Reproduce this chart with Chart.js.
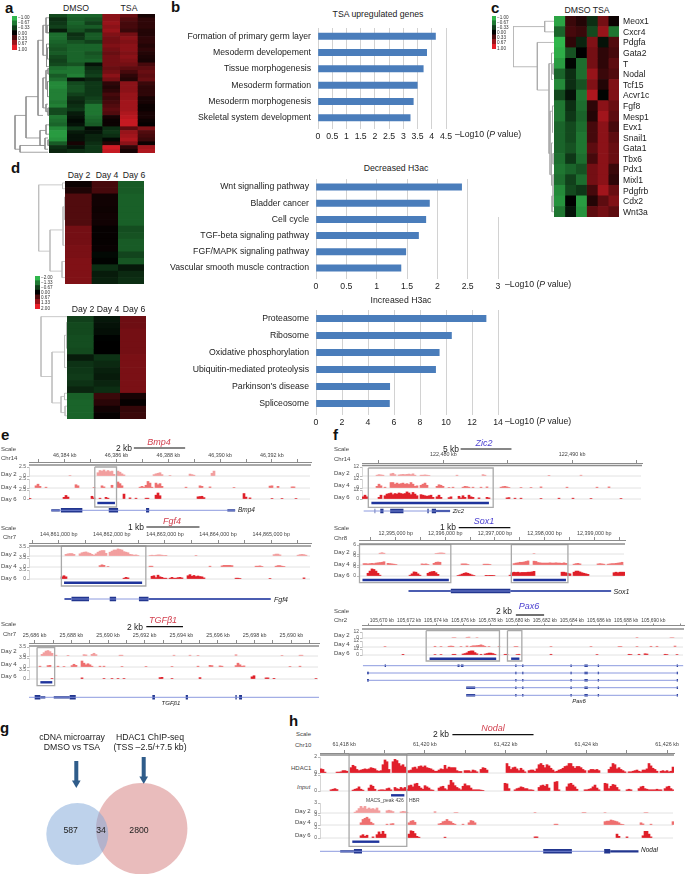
<!DOCTYPE html>
<html><head><meta charset="utf-8">
<style>
html,body{margin:0;padding:0;background:#fff}
#page{position:relative;width:685px;height:874px;overflow:hidden;background:#fff;filter:blur(.4px)}
#page canvas{position:absolute}
#page span{position:absolute;white-space:nowrap;font-family:"Liberation Sans",Arial,sans-serif;line-height:1}
</style>
<script src="https://cdn.jsdelivr.net/npm/chart.js@4"></script>
</head><body><div id="page"></div>
<script>
/* ---------- panel a ---------- */
const heatA=[[-.4,-.55,-.55,.6,.45,.1],[-.25,-.5,-.45,.6,.35,.2],[-.3,-.55,-.35,.65,.3,.2],[-.35,-.5,-.5,.6,.3,.2],[-.15,-.45,-.3,.65,.25,.15],[-.6,-.25,-.5,.55,.5,.15],[-.6,-.3,-.5,.5,.6,.2],[-.55,-.45,-.35,.5,.55,.2],[-.5,-.55,-.55,.55,.6,.15],[-.45,-.55,-.55,.5,.6,.2],[-.5,-.55,-.45,.45,.55,.15],[-.4,-.55,-.5,.5,.6,.12],[-.35,-.55,-.55,.5,.55,.1],[-.4,-.45,-.1,.5,.5,.3],[-.6,-.65,-.25,.45,.4,.4],[-.65,-.65,-.3,.5,.3,.45],[-.5,-.7,-.35,.6,.2,.4],[-.6,-.1,-.2,.5,.15,.45],[-.75,-.4,-.3,.2,.6,.25],[-.75,-.45,-.3,.15,.6,.2],[-.7,-.45,-.3,.2,.6,.2],[-.7,-.35,-.3,.3,.65,.2],[-.7,-.25,-.35,.25,.65,.1],[-.65,-.2,-.4,.3,.7,.1],[-.7,-.25,-.65,.35,.7,.05],[-.4,-.3,-.65,.4,.7,.05],[-.4,-.15,-.65,.35,.75,.1],[-.65,-.1,-.6,.1,.8,.1],[-.6,-.05,-.55,.05,.85,.05],[-.55,-.1,-.5,.05,.85,.02],[-.75,-.3,-.05,-.25,.4,.55],[-.85,-.15,-.1,-.3,.65,.35],[-.85,-.1,-.2,-.25,.7,.3],[-.8,-.1,-.2,-.05,.75,.25],[-.5,.1,-.25,.15,.6,.05],[-.25,-.1,-.3,.9,.2,.7],[-.2,-.25,-.3,.85,.1,.75]];
const dendA=[[34,27,23,36,29],[23,22,11,33,9],[29,35,5,36.8,1],[11,7,6,27,6],[6,3,3,11,2.5],[3,1,0,5,0],[2.5,8,0,14,0],[6,17,3,25,3],[3,15,1,20,1.5],[1,14.5,0,16,0],[1.5,18,0,22,0],[3,24,1,26,1],[9,31,3,35,4],[3,29.5,0,32,0],[4,33,1,36,1],[1,33.5,0,35,0],[1,25,0,27,0],[1.5,9,0,12,0],[2,3,0,5,0]];
const legend1=[-1,-.67,-.33,0,.33,.67,1];
const legendTextA=["−1.00","−0.67","−0.33","0.00","0.33","0.67","1.00"];
/* ---------- panel b ---------- */
const labelsB=["Formation of primary germ layer","Mesoderm developement","Tissue morphogenesis","Mesoderm formation","Mesoderm morphogenesis","Skeletal system development"];
const valuesB=[4.13,3.82,3.70,3.49,3.35,3.24];
/* ---------- panel c ---------- */
const genesC=["Meox1","Cxcr4","Pdgfa","Gata2","T","Nodal","Tcf15","Acvr1c","Fgf8","Mesp1","Evx1","Snail1","Gata1","Tbx6","Pdx1","Mixl1","Pdgfrb","Cdx2","Wnt3a"];
const heatC=[[-.9,.25,.15,-.25,.5,.05],[-.55,.3,.25,-.4,.65,-.65],[-1,.2,-.2,.55,-.1,.35],[-.95,-.45,0,.5,.2,.3],[-.85,-.03,-.6,.5,.2,.4],[-.55,-.25,-.6,.65,.25,.35],[-.75,-.25,-.45,.55,.15,.55],[-.4,-.1,-.65,.75,-.03,.55],[-.65,-.25,-.6,.2,.6,.45],[-.65,-.3,-.55,.15,.7,.4],[-.55,-.4,-.6,.3,.6,.3],[-.55,-.4,-.65,.3,.6,.4],[-.55,-.45,-.65,.4,.6,.45],[-.6,-.3,-.6,.3,.6,.45],[-.65,-.55,-.45,.5,.6,.25],[-.6,-.35,-.6,.5,.6,.2],[-.75,-.4,-.3,.3,.7,.45],[-.8,0,-.85,.15,.4,.55],[-.65,-.1,-.8,.4,.5,.4]];
const dendC=[[41,1,9.3,4.8,16.7],[9.3,.5,0,1.5,0],[16.7,2.5,0,7,5],[5,4.5,2.5,13,4],[2.5,3.5,0,6,1],[1,4.5,0,5.5,0],[4,9,1.5,15,2.5],[1.5,8.5,0,11,1],[2.5,12,1,16,1],[1,13,0,14,0],[1,15,0,18,0],[2,17,0,18.5,0]];
/* ---------- panel d ---------- */
const daysD=["Day 2","Day 4","Day 6"];
const heatD1=[[.1,.6,-1],[.25,.6,-1],[.7,.15,-1.05],[.7,.15,-1.05],[.7,.12,-1.05],[.7,.15,-1.05],[.7,.15,-1.05],[1,.05,-.85],[1,.05,-.9],[1,.05,-1],[1.05,.08,-1],[1.05,-.1,-.75],[1.1,-.03,-.95],[1.1,-.5,-.25],[1.1,-.3,-.45],[1.1,-.35,-.5]];
const heatD2=[[-.7,-.25,.95],[-.8,-.2,.95],[-.8,-.15,1],[-.85,-.02,1],[-.85,0,1],[-.8,0,1],[-.3,-.55,1.05],[-.55,-.45,1.05],[-.6,-.35,1.05],[-.65,-.3,1.05],[-.55,-.4,1.05],[-.4,-.5,1.05],[-1.05,.5,.2],[-1.1,.35,.05],[-1.1,.15,.45],[-1.1,.05,.5]];
const dendD1=[[26.3,.6,2.5,10.9,15],[2.5,.3,0,1.2,0],[15,7.6,2,14,3],[2,4,0,10,.5],[.5,2.5,0,6,0],[3,12.5,0,15,0]];
const dendD2=[[26,.1,0,9.4,15],[15,5.6,2.5,13.5,6],[2.5,3,.5,8,.5],[.5,1,0,5,0],[6,12.5,2.5,15,2],[2.5,12,0,13,0],[2,14,0,15.5,0]];
const legend2=[-2,-1.33,-.67,0,.67,1.33,2];
const legendTextD=["−2.00","−1.33","−0.67","0.00","0.67","1.33","2.00"];
const labelsD1=["Wnt signalling pathway","Bladder cancer","Cell cycle","TGF-beta signaling pathway","FGF/MAPK signaling pathway","Vascular smooth muscle contraction"];
const valuesD1=[2.40,1.87,1.81,1.69,1.48,1.40];
const labelsD2=["Proteasome","Ribosome","Oxidative phosphorylation","Ubiquitin-mediated proteolysis","Parkinson's disease","Spliceosome"];
const valuesD2=[13.08,10.42,9.48,9.2,5.67,5.65];
/* ---------- tracks: [first bin, signal, signal, ...] ---------- */
const bmp4D2=[[20,2],[34,12,20,18,22,16,20,16,18,6],[44,18,14,8,4],[62,5,8,10,12,5],[70,2],[80,7,5,3],[91,10,18]];
const bmp4D4=[[3,8,14,6],[8,3],[23,12,8],[32,2],[36,8,4],[41,10],[44,22,16,8],[55,3,6,3,10,24,18,3],[63,18,12,16,6],[78,3],[85,8,6],[90,4],[102,2],[120,7,8],[124,6],[131,4,4]];
const bmp4D6=[[0,1],[17,6,13,7],[31,10,4],[35,3],[38,6,3],[47,18],[50,4],[53,3],[58,3,3],[63,14,22,12],[84,8,9,10,5],[107,20,7],[110,4],[121,2],[126,2],[133,2]];
const fgf4D2=[[18,6,8,9,9,6],[25,8,12,14,15,12,10,6,3],[33,8,14,18,20,20,10],[40,14,18,22,22,26,24,22,16,14,12,6],[51,5,3,4,2],[60,2,3,2,3,4,4,3,2,1],[83,1],[122,5,7,7,4],[134,3,5,6,5,3]];
const fgf4D4=[[35,5,8,6],[39,2],[60,3,3],[90,3],[96,4,6,6,6,6,5],[113,3,3,4,2],[123,3,5,5,3,2]];
const fgf4D6=[[16,8,12,8],[47,3,6,4],[61,10,12,5,14,8,6,3,3],[70,3,6,3],[73,3,5,6,4],[79,12,16,10,13,9,11,9,8,4],[103,3,3,2],[120,2],[137,4]];
const tgfD2=[[6,6,12,18,20,16,10],[13,3],[19,1],[27,5,4],[31,6,10,5],[45,3,3],[72,3],[80,3],[84,1],[103,5],[126,1],[135,3,3]];
const tgfD4=[[5,3],[9,5,6],[14,3],[17,2],[21,5,10,6],[26,22,14,8,12,8,3],[35,3],[37,3],[46,2],[58,2],[71,2],[84,3],[90,6,5],[95,4,3],[103,5,14,8,3,4],[130,2],[135,3]];
const tgfD6=[[11,2],[26,4],[37,2],[41,2],[44,2],[47,2],[65,5,6],[71,2],[85,5],[111,8,12],[118,4,4],[122,1],[143,2]];
const zic2D2=[[7,3,5,4,3],[14,8,10,5],[18,4,5,6,5,6,7,5,8,3],[29,3,3,4,3,2],[47,3],[60,5,3],[93,1],[109,3]];
const zic2D4=[[7,6,14,8],[11,3],[14,20,20,14,18,14,16,18,14,16,13,20,14,6,8],[29,10,14,18,10],[37,6,12,10,6],[43,2],[45,3],[50,3,6,5,3],[55,3],[59,3],[62,4],[69,3,5,6,4,2],[79,2],[84,2],[89,4],[102,3],[117,3],[123,4]];
const zic2D6=[[0,8,14,8],[8,6,14],[11,12,18,20,22,16,20,18,22,20,18,20,26,22,16,24,18,12],[29,16,14,12,10,12,14,6],[37,8,14,6],[43,5,8],[48,10,4,12,6],[53,14,8,6],[58,4],[62,6,4],[72,4,5],[76,3],[79,3],[89,2],[98,3],[105,3],[114,2],[129,2]];
const sox1D2=[[10,3,5,3],[38,2,3,4,4,3],[87,2]];
const sox1D4=[[2,5,5,4,5,6,5,7,8,9,10,12],[14,6,5,4,3,2],[31,4,3,4,2],[37,6,10,11,10],[51,4,4,4,2],[62,3,3,3,2],[77,5,7,8,10,10,11,13,15],[87,14,13,9,8,7,7,7,7,8,7,7,8,7,7,6,8,6],[107,3,5,6,4],[119,4,5,4,3],[124,3,4,5,5,6,7,8,10]];
const sox1D6=[[4,10,18,26,24,18,10,3],[25,3,8,15,14,8,3],[34,10,14,16,17,12,6],[49,2,4,7,10,12,10,7,4,2],[63,1,2,1,1,2],[75,3,12,14,13,14,12,13,13,13,14,14,15,17],[101,14,14,12,10,8],[107,14,18,18,15,12,10,8,6],[127,12,14,12,14,14,14]];
const pax6D2=[[45,2,2],[52,3,4],[57,2],[137,1],[154,2,2]];
const pax6D4=[[11,2],[36,3],[39,2],[43,3,4,3],[49,2],[52,4],[54,3,5,5,6,7,9,6,3],[63,2],[68,2],[76,2,2],[94,2],[114,2],[128,2,2],[137,2],[144,3],[147,3],[156,4]];
const pax6D6=[[20,1],[36,2],[39,2],[45,3,3],[50,4,6,9,15,17,17,10,5],[59,3],[61,4,6,8,8,6,3],[71,3,3],[77,2,3],[94,3],[117,2],[133,3,2],[138,3],[141,5,4],[151,3,2],[157,2]];
const nodalHdac=[[0,14,12,3],[8,3,3],[10,4,8,8,6],[15,18,26,22,12,8,10,12,14,12,14,18,16,14,8,6,8,28,44,38,12],[36,38,46,42,32,24,28,20],[44,8,10,18,20,14,22,24,20,24,18,16,14,10,6],[58,6,10,14,12,26,14,20,18,18,18,8,5,5],[72,8,8,8,4,10,8,4],[80,12,18,16,10],[93,32,22,12,18,20,14,8,16,10,4],[104,8,10,10,6],[108,14,28,32,26,18,28,24,16,10,4],[118,6,10,12,16,22,24,32,32,22,16,22,22,18,12,8],[134,8,12,12,10,12,8],[144,12,20,32,28,14,18,12,8,4],[154,4,4,6,8,10,6,4],[161,10,10,14,32,24,16,12,6],[170,6,8,5,8,4,6,20]];
const nodalInput=[[5,4,6,8,5],[16,3,6,8,14,6,3],[24,10,20,16,6],[29,3,4,4,3,8,10,4],[37,12,8,6,12,8,12,6],[44,18,20,14,24,26,16,10,6,18,14,10,4,3],[59,10,14,16,8,4,20,36,28,18,12,8,4,16,24,18],[74,18,10,4,4,4,4,3,2],[92,26,24,8],[97,4,8,10,14,12,8,8,4,4,3],[109,12,18,20,16,22,10],[117,30,32,4],[123,14,24,26,20,14,6],[132,4,4,6,8,14,20,10,4],[142,26,24,8,16,22,20,12,4],[153,4,6,4],[159,8,14,16,8,6,4],[165,4,4,4,6,4,4],[172,8,14,16,8,4]];
const nodalD2=[[17,3,8,16,24,18,24,14,18,14,16,12,18,8],[33,8,10,8,5],[40,4,6,5,2],[57,5],[67,2,2],[107,1],[131,1,1],[142,2],[162,2,2]];
const nodalD4=[[20,8,20,24,28,22,10,5],[33,3,0,4,5],[44,8,14,16,10],[59,4,6,12,14,20,14,12,6,3],[71,3],[74,8,16,14,8],[117,3,3],[142,12,14,14,18,16,14,12,8,3,2],[160,8,4],[165,3],[176,12]];
const nodalD6=[[20,8,12,6,10],[26,4],[28,12,22,14,24,14],[44,14,26,24,16,6,3],[62,3],[107,4,4],[148,14,6],[153,4],[161,8,24,24,14,4]];
/* ---------- genome models, in kb ---------- */
const bmp4Introns=[[46383.48,46390.58]],bmp4Utrs=[[46383.48,46383.81],[46390.28,46390.58]],bmp4Exons=[[46383.85,46384.68],[46385.70,46386.06],[46387.14,46387.26]],bmp4Boxes=[[46385.16,46386.0]],bmp4Macs=[[46385.26,46385.94]];
const bmp4Ticks=[46383,46384,46385,46386,46387,46388,46389,46390,46391,46392,46393];
const fgf4Introns=[[144861.11,144864.99]],fgf4Utrs=[[144861.11,144861.24],[144862.69,144864.99]],fgf4Exons=[[144861.24,144861.57],[144861.96,144862.08],[144862.51,144862.69]],fgf4Boxes=[[144861.05,144862.64]],fgf4Macs=[[144861.10,144862.57]];
const fgf4Ticks=[144860.5,144861,144861.5,144862,144862.5,144863,144863.5,144864,144864.5,144865,144865.5];
const tgfIntrons=[[25685.69,25701.51]],tgfUtrs=[[25686.31,25686.58],[25687.04,25687.91]],tgfExons=[[25686,25686.31],[25687.91,25688.24],[25692.42,25692.56],[25694.24,25694.36],[25696.95,25697.02],[25697.15,25697.31]],tgfBoxes=[[25686.13,25687.09]],tgfMacs=[[25686.31,25686.96]];
const tgfTicks=[25686,25687,25688,25689,25690,25691,25692,25693,25694,25695,25696,25697,25698,25699,25700,25701];
const zic2Introns=[[122473.81,122480.52]],zic2Utrs=[[122479.43,122480.52]],zic2Exons=[[122474.66,122474.71],[122475.10,122475.35],[122475.87,122476.90],[122478.76,122478.86],[122479.10,122479.43]],zic2Boxes=[[122474.17,122483.87]],zic2Macs=[[122474.41,122483.54]];
const zic2Ticks=[122475,122480,122485,122490,122495];
const sox1Introns=[[12395.26,12399.34]],sox1Utrs=[[12395.26,12396.11],[12397.31,12399.34]],sox1Exons=[[12396.11,12397.31]],sox1Boxes=[[12394.27,12396.11],[12397.33,12398.47]],sox1Macs=[[12394.33,12396.07],[12397.37,12398.43]];
const sox1Ticks=[12394.5,12395,12395.5,12396,12396.5,12397,12397.5,12398,12398.5,12399,12399.5];
const pax6Boxes=[[105673.26,105678.66],[105679.25,105680.31]],pax6Macs=[[105673.51,105678.42],[105679.52,105680.13]];
const pax6Common=[[105679.82,105679.92],[105680.33,105680.43],[105683.89,105683.99],[105684.92,105685.17],[105685.9,105686.0],[105691.72,105691.82]];
const pax6Ticks=[105669,105670,105672,105674,105676,105678,105680,105682,105684,105686,105688,105690,105692];
const nodalIntrons=[[61417.40,61424.44]],nodalUtrs=[[61417.90,61418.24],[61424.59,61425.29]],nodalExons=[[61418.24,61418.44],[61422.93,61423.64],[61424.44,61424.59]],nodalBoxes=[[61418.12,61419.55]],nodalMacs=[[61419.16,61419.49],[61418.20,61418.87]];
const nodalTicks=[61418,61419,61420,61421,61422,61423,61424,61425,61426];
/* ---------- panel g ---------- */
const vennCounts=[587,34,2800];
const vennSets=[{x:77.3,y:834,r:31},{x:141.7,y:828.7,r:45.7}];

/* ---------- helpers ---------- */
const page=document.getElementById('page');
const FONT='"Liberation Sans",Arial,sans-serif';
Chart.defaults.font.family=FONT;
Chart.defaults.animation=false;
Chart.defaults.plugins.legend.display=false;
Chart.defaults.plugins.tooltip.enabled=false;
Chart.defaults.responsive=false;
Chart.defaults.devicePixelRatio=1;
Chart.defaults.layout.autoPadding=false;
function cv(x,y,w,h){const c=document.createElement('canvas');c.width=w;c.height=h;c.style.left=x+'px';c.style.top=y+'px';c.style.width=w+'px';c.style.height=h+'px';page.appendChild(c);return c;}
function t(x,y,s,o={}){const e=document.createElement('span');e.innerHTML=s;const a=o.align||'left';
 e.style.left=x+'px';e.style.top=y+'px';e.style.fontSize=(o.size||8.7)+'px';e.style.color=o.color||'#222';
 if(o.bold)e.style.fontWeight='bold';if(o.italic)e.style.fontStyle='italic';
 e.style.transform='translate('+(a=='left'?'0':a=='right'?'-100%':'-50%')+',-50%)';page.appendChild(e);}
function col(f){f=Math.max(-1,Math.min(1,f));return f<0?`rgb(${Math.round(-f*48)},${Math.round(-f*182)},${Math.round(-f*76)})`:`rgb(${Math.round(f*232)},${Math.round(f*30)},${Math.round(f*40)})`;}
function heat(x,y,w,h,m,max){const c=cv(x,y,w,h);const n=m[0].length;
 new Chart(c,{type:'bar',data:{labels:m.map((_,i)=>i),datasets:Array.from({length:n},(_,j)=>({data:m.map(()=>1),backgroundColor:m.map(r=>col(r[j]/max)),barPercentage:1,categoryPercentage:1,borderWidth:0}))},
 options:{indexAxis:'y',layout:{padding:0},scales:{x:{stacked:true,display:false,min:0,max:n},y:{stacked:true,display:false}}}});}
function gapped(list){const p=[];list.forEach(s=>{p.push(...s);p.push({x:NaN,y:NaN});});return p;}
function dend(x,y,w,h,nodes,rows,color){const c=cv(x,y,w,h);
 const data=gapped(nodes.map(([p,a,ca,b,cb])=>[{x:ca,y:a},{x:p,y:a},{x:p,y:b},{x:cb,y:b}]));
 new Chart(c,{type:'scatter',data:{datasets:[{data,showLine:true,spanGaps:false,pointRadius:0,borderColor:color,borderWidth:.8}]},
 options:{layout:{padding:0},scales:{x:{display:false,reverse:true,min:0,max:w},y:{display:false,reverse:true,min:0,max:rows}}}});}
function legendBar(x,y,w,h,vals,max,texts,tx,ys){heat(x,y,w,h,vals.map(v=>[v]),max);texts.forEach((s,i)=>t(tx,ys+i*(h-2)/6,s,{size:4.6,color:'#333'}));}
function hbars(o){const L=160,top=o.y0-2,ax=16,pr=16;
 const c=cv(L,top,o.x1+pr-L,o.y1-o.y0+2+ax);
 new Chart(c,{type:'bar',data:{labels:o.labels,datasets:[{data:o.values,backgroundColor:'#4a7dbb',barThickness:6.3,borderWidth:0}]},
 options:{indexAxis:'y',layout:{padding:{top:2,right:pr,left:0,bottom:0}},scales:{
  x:{min:0,max:o.max,afterBuildTicks:s=>{s.ticks=o.ticks.map(v=>({value:v}));},afterFit:s=>{s.height=ax;s.paddingLeft=0;s.paddingRight=0;},
     ticks:{color:'#222',font:{size:8.7},padding:2,maxRotation:0,autoSkip:false,callback:v=>String(v)},
     border:{display:false},grid:{color:ctx=>(o.hideAt!==undefined&&ctx.tick&&ctx.tick.value===o.hideAt)?'rgba(0,0,0,0)':'#d2d2d2',lineWidth:1,tickLength:3}},
  y:{afterFit:s=>{s.width=o.x0-L;s.paddingTop=0;s.paddingBottom=0;},ticks:{color:'#222',font:{size:8.7},padding:7,autoSkip:false},border:{display:false},grid:{display:false,drawTicks:false}}}}});}
function expand(peaks,n){const a=new Array(n).fill(0);peaks.forEach(([s,...v])=>v.forEach((h,i)=>{if(s+i<n)a[s+i]=h;}));return a;}
function track(left,right,base,full,max,peaks,color){const w=right-left,n=Math.round(w/2),H=Math.round(full/3),pad=3,ax=12;
 const c=cv(left-ax,base-H-pad,w+ax,H+2*pad);const vals=expand(peaks,n).map(z=>z?z/full*max:null);
 new Chart(c,{data:{labels:vals.map((_,i)=>i),datasets:[
  {type:'line',data:vals.map(()=>0),borderColor:'#e2e2e2',borderWidth:1,pointRadius:0,clip:false,order:2},
  {type:'bar',data:vals,backgroundColor:color,barPercentage:1,categoryPercentage:1,borderWidth:0,order:1}]},
 options:{layout:{padding:{top:pad,bottom:pad,left:0,right:0}},scales:{x:{display:false},
  y:{min:0,max,afterBuildTicks:s=>{s.ticks=[{value:0},{value:max}];},afterFit:s=>{s.width=ax;},
     ticks:{font:{size:5},color:'#555',padding:1,autoSkip:false,callback:v=>String(v)},border:{color:'#bbb',width:.6},grid:{drawOnChartArea:false,tickLength:2,color:'#bbb'}}}}});}
function browser(o){const m=30,top=o.top,ax=o.rulerY-top,w=o.right-o.left,h=o.bottom-o.rulerY;
 const c=cv(o.left-m,top,w+2*m,ax+h);const R=y=>y-o.rulerY;
 const seg=(list,y,width,color,extra={})=>({data:gapped(list.map(([a,b])=>[{x:a,y:R(y)},{x:b,y:R(y)}])),showLine:true,spanGaps:false,pointRadius:0,borderColor:color,borderWidth:width,clip:false,borderCapStyle:'butt',...extra});
 const ds=[seg([[o.xmin,o.xmax]],o.thickY,1.6,'#8c8c8c')];
 (o.genes||[]).forEach(g=>{ds.push(seg(g.introns,g.y,.9,'#7f8edb'));if(g.utrs)ds.push(seg(g.utrs,g.y,2.2,'#22368f'));ds.push(seg(g.exons,g.y,g.ex||4.5,'#22368f'));});
 o.macs.forEach(b=>ds.push(seg([b.r],b.y,2.4,'#1f349c')));
 o.boxes.forEach(b=>ds.push({data:[{x:b.r[0],y:R(b.y0)},{x:b.r[1],y:R(b.y0)},{x:b.r[1],y:R(b.y1)},{x:b.r[0],y:R(b.y1)},{x:b.r[0],y:R(b.y0)}],showLine:true,pointRadius:0,borderColor:'#a9a9a9',borderWidth:1.3,clip:false}));
 ds.push(seg([o.bar],o.barY,1.2,'#111',{pointRadius:ctx=>(ctx.raw&&Number.isNaN(ctx.raw.x))?0:1.2,pointBackgroundColor:'#111',pointBorderWidth:0}));
 new Chart(c,{type:'scatter',data:{datasets:ds},options:{layout:{padding:{left:m,right:m,top:0,bottom:0}},scales:{
  x:{position:'top',min:o.xmin,max:o.xmax,afterBuildTicks:s=>{s.ticks=o.ticks.map(v=>({value:v}));},afterFit:s=>{s.height=ax;s.paddingLeft=0;s.paddingRight=0;},
     ticks:{font:{size:o.fs||5.4},color:'#444',padding:o.lp,maxRotation:0,autoSkip:false,callback:v=>o.labels[v]||''},border:{color:'#8c8c8c',width:1},grid:{drawOnChartArea:false,tickLength:o.tl||3,color:'#8c8c8c'}},
  y:{display:false,reverse:true,min:0,max:h}}}});}
const SM={size:6,color:'#444'};
const D2='#f29f9f',D4='#ee7070',D6='#df2029',RD='#e1202c',TITLE='#d2404f',BLUE='#4a3fd0';

/* panel letters */
[["a",5,7],["b",171,6],["c",491,7],["d",11,167],["e",1,434],["f",333,434],["g",0,727],["h",289,720]].forEach(([s,x,y])=>t(x,y,s,{size:15,bold:true,color:'#111'}));

/* a */
t(76,8,"DMSO",{align:'center'});t(129,8,"TSA",{align:'center'});
dend(14,14,35,139,dendA,37,'#8a8a8a');
heat(49,14,106,139,heatA,1);
legendBar(12,16,5,34,legend1,1,legendTextA,18,17.5);

/* b */
t(378,14,"TSA upregulated genes",{align:'center'});
hbars({x0:318,x1:446,y0:28,y1:126,labels:labelsB,values:valuesB,max:4.5,ticks:[0,.5,1,1.5,2,2.5,3,3.5,4,4.5]});
t(455,133.5,"–Log10 (<i>P</i> value)");

/* c */
t(587,10,"DMSO TSA",{align:'center'});
legendBar(492,16,4,33,legend1,1,legendTextA,497,17.5);
dend(513,16,41,201,dendC,19,'#a8a8a8');
heat(554,16,65,201,heatC,1);
genesC.forEach((g,i)=>t(623,16+(i+.5)*10.58,g,{size:8.6}));

/* d */
daysD.forEach((d,i)=>t([79,107,134][i],175,d,{align:'center'}));
dend(38,181,27,103,dendD1,16,'#bdbdbd');
heat(65,181,79,103,heatD1,2);
legendBar(35,276,4.5,33,legend2,2,legendTextD,41,277.5);
daysD.forEach((d,i)=>t([83,108,134][i],309,d,{align:'center'}));
dend(40,316,27,103,dendD2,16,'#bdbdbd');
heat(67,316,79,103,heatD2,2);
t(396,168,"Decreased H3ac",{align:'center'});
hbars({x0:316,x1:498,y0:179,y1:276,labels:labelsD1,values:valuesD1,max:3,ticks:[0,.5,1,1.5,2,2.5,3],hideAt:3});
t(505,284,"–Log10 (<i>P</i> value)");
t(401,300,"Increased H3ac",{align:'center'});
hbars({x0:316,x1:498,y0:310,y1:412,labels:labelsD2,values:valuesD2,max:14,ticks:[0,2,4,6,8,10,12,14]});
t(505,421,"–Log10 (<i>P</i> value)");

/* stub of the last gridline in the upper panel d chart */
(function(){const s=document.createElement('div');s.style.cssText='position:absolute;left:498px;top:217px;width:1px;height:62px;background:#d2d2d2';page.appendChild(s);})();

/* e: Bmp4 */
t(1,449,"Scale",SM);t(1,458,"Chr14",SM);[["Day 2",474],["Day 4",487],["Day 6",499]].forEach(([d,y])=>t(1,y,d,SM));
t(159,442,"Bmp4",{italic:true,size:9,color:TITLE,align:'center'});t(132,448,"2 kb",{size:8.5,align:'right'});
track(29,311,477,33,2.5,bmp4D2,D2);track(29,311,489,33,2.5,bmp4D4,D4);track(29,311,500,33,2.5,bmp4D6,D6);
browser({left:29,right:311,top:444,rulerY:462,thickY:465,bottom:515,lp:0,xmin:46382.62,xmax:46393.51,ticks:bmp4Ticks,labels:{46384:"46,384 kb",46386:"46,386 kb",46388:"46,388 kb",46390:"46,390 kb",46392:"46,392 kb"},
 genes:[{y:510.3,introns:bmp4Introns,utrs:bmp4Utrs,exons:bmp4Exons}],macs:[{r:bmp4Macs[0],y:503}],boxes:[{r:bmp4Boxes[0],y0:467,y1:507}],bar:[46386.67,46388.65],barY:448});
t(238,510,"Bmp4",{italic:true,size:6.5});

/* e: Fgf4 */
t(1,528,"Scale",SM);t(3,537,"Chr7",SM);[["Day 2",554],["Day 4",566],["Day 6",578]].forEach(([d,y])=>t(1,y,d,SM));
t(172,521,"Fgf4",{italic:true,size:9,color:TITLE,align:'center'});t(144,527,"1 kb",{size:8.5,align:'right'});
track(29,311,557,33,3.5,fgf4D2,D2);track(29,311,568,33,3.5,fgf4D4,D4);track(29,311,580,33,3.5,fgf4D6,D6);
browser({left:29,right:311,top:523,rulerY:543,thickY:546,bottom:604,lp:2.6,xmin:144860.44,xmax:144865.75,ticks:fgf4Ticks,labels:{144861:"144,861,000 bp",144862:"144,862,000 bp",144863:"144,863,000 bp",144864:"144,864,000 bp",144865:"144,865,000 bp"},
 genes:[{y:599,introns:fgf4Introns,utrs:fgf4Utrs,exons:fgf4Exons}],macs:[{r:fgf4Macs[0],y:582.7}],boxes:[{r:fgf4Boxes[0],y0:546,y1:586}],bar:[144862.65,144863.65],barY:527});
t(274,598.5,"Fgf4",{italic:true,size:7});

/* e: TGFb1 */
t(1,624,"Scale",SM);t(3,634,"Chr7",SM);[["Day 2",651],["Day 4",664],["Day 6",676]].forEach(([d,y])=>t(1,y,d,SM));
t(163,620,"TGFβ1",{italic:true,size:9,color:TITLE,align:'center'});t(143,627,"2 kb",{size:8.5,align:'right'});
track(29,319,657,33,3.5,tgfD2,D2);track(29,319,668,33,3.5,tgfD4,D4);track(29,319,680,33,3.5,tgfD6,D6);
browser({left:29,right:319,top:622,rulerY:643,thickY:646,bottom:702,lp:1.3,xmin:25685.69,xmax:25701.51,ticks:tgfTicks,labels:{25686:"25,686 kb",25688:"25,688 kb",25690:"25,690 kb",25692:"25,692 kb",25694:"25,694 kb",25696:"25,696 kb",25698:"25,698 kb",25700:"25,690 kb"},
 genes:[{y:697.3,introns:tgfIntrons,utrs:tgfUtrs,exons:tgfExons}],macs:[{r:tgfMacs[0],y:682.3}],boxes:[{r:tgfBoxes[0],y0:647.5,y1:685.7}],bar:[25692.09,25694.09],barY:626.7});
t(171,702.7,"TGFβ1",{italic:true,size:6,align:'center'});

/* f: Zic2 */
t(334,449,"Scale",SM);t(334,459,"Chr14",SM);[["Day 2",473],["Day 4",485],["Day 6",497]].forEach(([d,y])=>t(334,y,d,SM));
t(484,443,"Zic2",{italic:true,size:9,color:BLUE,align:'center'});t(459,449,"5 kb",{size:8.5,align:'right'});
track(362,642,477,33,12,zic2D2,D2);track(362,642,489,33,12,zic2D4,D4);track(362,642,500,33,12,zic2D6,D6);
browser({left:362,right:642,top:445,rulerY:463,thickY:465.5,bottom:515,lp:2,xmin:122473.68,xmax:122495.43,ticks:zic2Ticks,labels:{122480:"122,480 kb",122490:"122,490 kb"},
 genes:[{y:511,introns:zic2Introns,utrs:zic2Utrs,exons:zic2Exons}],macs:[{r:zic2Macs[0],y:503}],boxes:[{r:zic2Boxes[0],y0:468,y1:507.3}],bar:[122481.34,122485.29],barY:449});
t(452.7,510.5,"Zic2",{italic:true,size:6});

/* f: Sox1 */
t(334,528,"Scale",SM);t(334,538,"Chr8",SM);[["Day 2",552],["Day 4",564],["Day 6",575]].forEach(([d,y])=>t(334,y,d,SM));
t(484,521,"Sox1",{italic:true,size:9,color:BLUE,align:'center'});t(456,527,"1 kb",{size:8.5,align:'right'});
track(359,625,555,33,6,sox1D2,D2);track(359,625,566,33,6,sox1D4,D4);track(359,625,577,33,6,sox1D6,D6);
browser({left:359,right:625,top:522,rulerY:540,thickY:544,bottom:596,lp:.3,xmin:12394.26,xmax:12399.62,ticks:sox1Ticks,labels:{12395:"12,395,000 bp",12396:"12,396,000 bp",12397:"12,397,000 bp",12398:"12,398,000 bp",12399:"12,399,000 bp"},
 genes:[{y:591,introns:sox1Introns,utrs:sox1Utrs,exons:sox1Exons}],macs:[{r:sox1Macs[0],y:580},{r:sox1Macs[1],y:580}],boxes:[{r:sox1Boxes[0],y0:544.7,y1:582.7},{r:sox1Boxes[1],y0:544.7,y1:582.7}],bar:[12396.27,12397.31],barY:527.7});
t(613.5,591,"Sox1",{italic:true,size:7});

/* f: Pax6 */
t(334,611,"Scale",SM);t(334,620,"Chr2",SM);[["Day 2",635],["Day 4",644],["Day 6",653]].forEach(([d,y])=>t(334,y,d,SM));
t(529,606,"Pax6",{italic:true,size:9,color:BLUE,align:'center'});t(512,611,"2 kb",{size:8.5,align:'right'});
track(362,684,639,25,12,pax6D2,D2);track(362,684,648,25,12,pax6D4,D4);track(362,684,656,25,12,pax6D6,D6);
browser({left:362,right:684,top:610,rulerY:625,thickY:629,bottom:702,lp:0,tl:1.5,fs:4.9,xmin:105668.53,xmax:105692.26,ticks:pax6Ticks,labels:{105670:"105,670 kb",105672:"105,672 kb",105674:"105,674 kb",105676:"105,676 kb",105678:"105,678 kb",105680:"105,680 kb",105682:"105,682 kb",105684:"105,684 kb",105686:"105,686 kb",105688:"105,688 kb",105690:"105,690 kb"},
 genes:[
  {y:665.7,ex:2.6,introns:[[105668.6,105692.2]],exons:[[105670.2,105670.3],[105675.57,105675.72],[105675.82,105676.01],...pax6Common]},
  {y:673,ex:2.6,introns:[[105668.9,105691.8]],exons:[[105668.9,105669.04],...pax6Common]},
  {y:680.3,ex:2.6,introns:[[105668.9,105691.8]],exons:[[105668.9,105669.04],...pax6Common]},
  {y:687.7,ex:2.6,introns:[[105676.21,105691.8]],exons:[[105676.21,105676.87],...pax6Common]},
  {y:695.3,ex:2.6,introns:[[105676.21,105691.8]],exons:[[105676.21,105676.87],...pax6Common]}],
 macs:[{r:pax6Macs[0],y:658.7},{r:pax6Macs[1],y:658.7}],boxes:[{r:pax6Boxes[0],y0:630.7,y1:661},{r:pax6Boxes[1],y0:630.7,y1:661}],bar:[105679.87,105681.95],barY:615});
t(579,700.7,"Pax6",{italic:true,size:6,align:'center'});

/* g */
t(72,737,"cDNA microarray",{align:'center',size:8.7});t(72,747,"DMSO vs TSA",{align:'center',size:8.7});
t(150,737,"HDAC1 ChIP-seq",{align:'center',size:8.7});t(150,747,"(TSS –2.5/+7.5 kb)",{align:'center',size:8.7});
(function(){const c=cv(0,750,200,124);
 new Chart(c,{type:'bubble',data:{datasets:[
  {data:[vennSets[0]],backgroundColor:'rgba(130,168,216,.52)',borderWidth:0,clip:false},
  {data:[vennSets[1]],backgroundColor:'rgba(212,122,122,.5)',borderWidth:0,clip:false},
  {type:'line',data:[{x:76.3,y:761},{x:76.3,y:783}],borderColor:'#2f5c8a',borderWidth:4,pointRadius:[0,5],pointStyle:'triangle',pointRotation:180,pointBackgroundColor:'#2f5c8a',pointBorderWidth:0,borderCapStyle:'butt'},
  {type:'line',data:[{x:143.7,y:757},{x:143.7,y:779}],borderColor:'#2f5c8a',borderWidth:4,pointRadius:[0,5],pointStyle:'triangle',pointRotation:180,pointBackgroundColor:'#2f5c8a',pointBorderWidth:0,borderCapStyle:'butt'}]},
 options:{layout:{padding:0},scales:{x:{type:'linear',display:false,min:0,max:200},y:{type:'linear',display:false,reverse:true,min:750,max:874}}}});})();
t(70.7,830,String(vennCounts[0]),{align:'center'});t(101,830,String(vennCounts[1]),{align:'center'});t(139,830,String(vennCounts[2]),{align:'center'});

/* h */
t(296,733.5,"Scale",SM);t(295,745,"Chr10",SM);t(291,768,"HDAC1",SM);t(297,787,"Input",{size:6,color:'#444',italic:true});
t(295,811,"Day 2",SM);t(295,822,"Day 4",SM);t(295,835,"Day 6",SM);
t(493,728,"Nodal",{italic:true,size:9,color:TITLE,align:'center'});t(449,734,"2 kb",{size:8.5,align:'right'});
track(320,674,774,54,2,nodalHdac,RD);track(320,674,792,54,2,nodalInput,RD);
track(320,674,814,36,3,nodalD2,D2);track(320,674,826,36,3,nodalD4,D4);track(320,674,839,36,3,nodalD6,D6);
browser({left:320,right:674,top:730,rulerY:753,thickY:755,bottom:856,lp:2.6,xmin:61417.40,xmax:61426.17,ticks:nodalTicks,labels:{61418:"61,418 kb",61420:"61,420 kb",61422:"61,422 kb",61424:"61,424 kb",61426:"61,426 kb"},
 genes:[{y:851.3,introns:nodalIntrons,utrs:nodalUtrs,exons:nodalExons}],macs:[{r:nodalMacs[0],y:795.3},{r:nodalMacs[1],y:841.7}],boxes:[{r:nodalBoxes[0],y0:754,y1:846.3}],bar:[61420.68,61422.69],barY:734.7});
t(366,799.7,"MACS_peak 426",{size:5,color:'#444'});t(409,799.7,"HBR",{size:5,color:'#444'});
t(641,850,"Nodal",{italic:true,size:6.5});
</script></body></html>
